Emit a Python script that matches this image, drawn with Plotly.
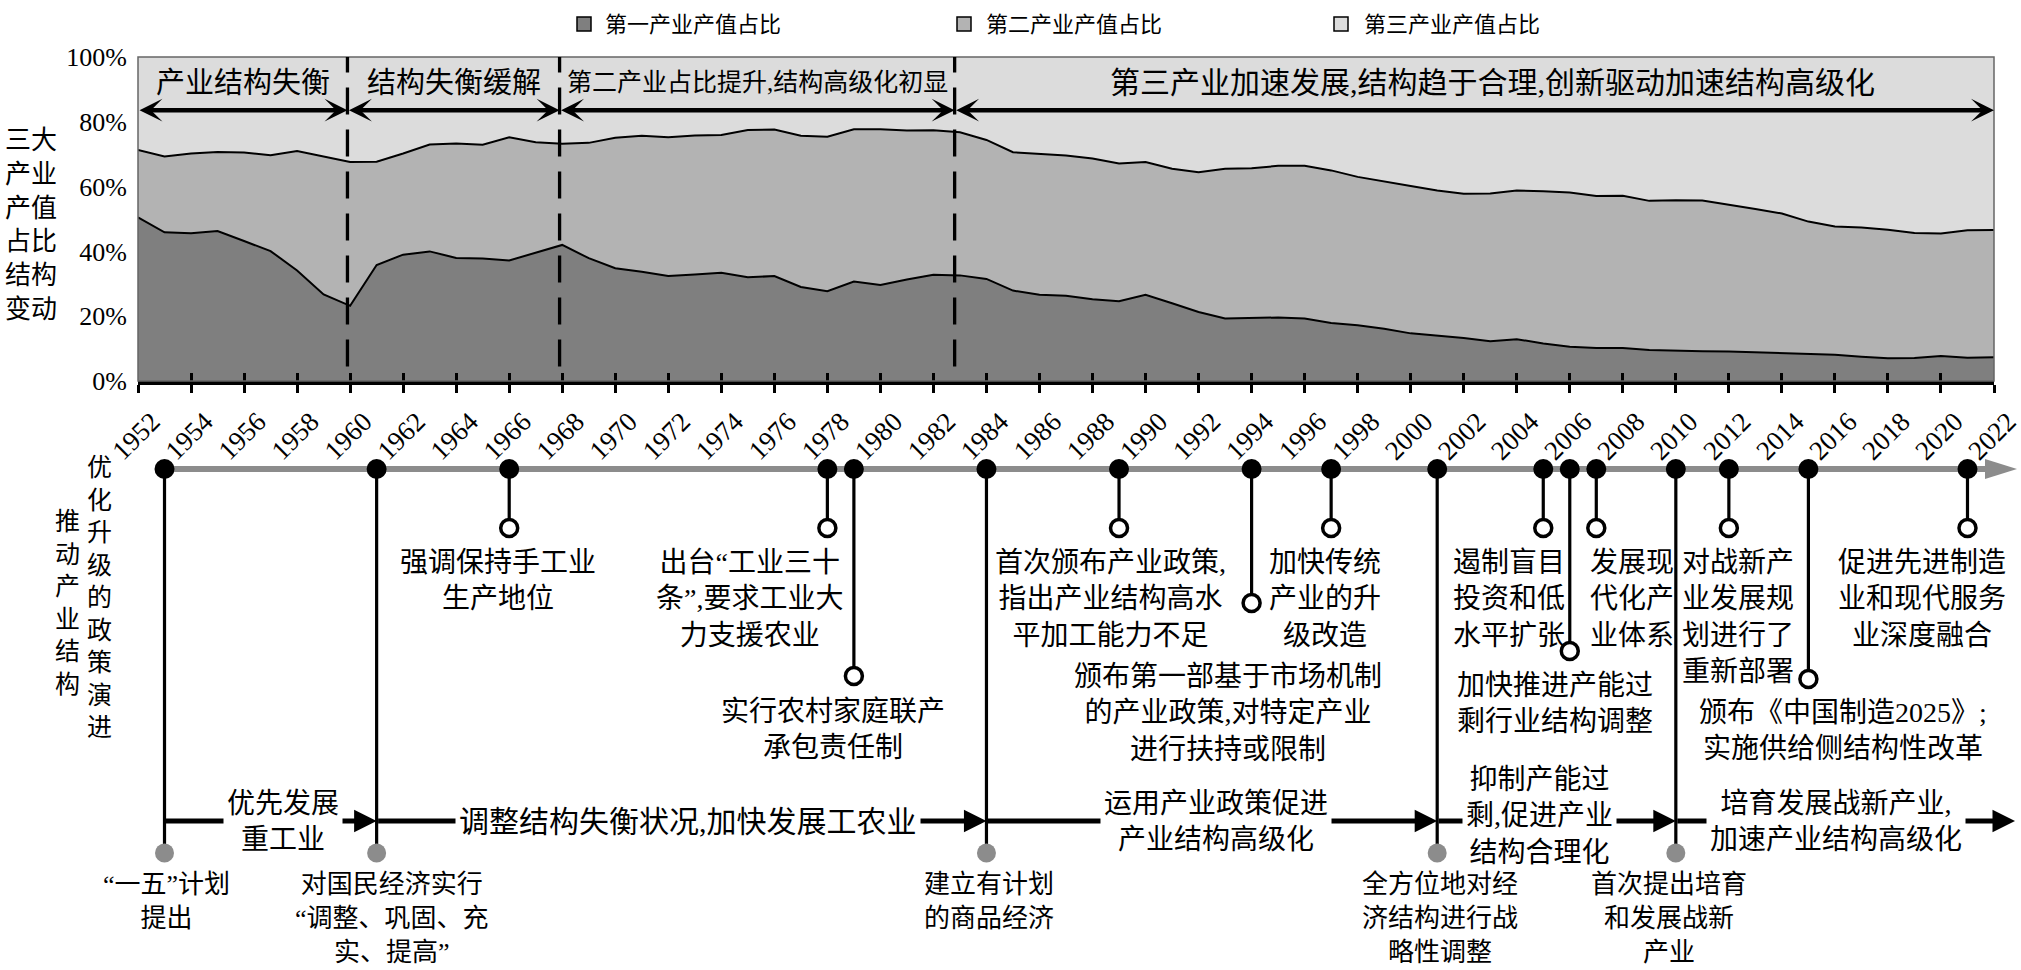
import plotly.graph_objects as go

W, H = 2021, 970

# ---------------- data ----------------
years = list(range(1952, 2023))
primary = [50.5, 45.9, 45.6, 46.3, 43.2, 40.1, 34.1, 26.7, 23.2, 35.8,
           39.0, 40.0, 38.0, 37.8, 37.2, 39.7, 42.0, 37.9, 34.8, 33.7,
           32.4, 32.9, 33.4, 32.0, 32.4, 29.0, 27.7, 30.7, 29.6, 31.3,
           32.8, 32.6, 31.5, 27.9, 26.6, 26.3, 25.2, 24.6, 26.6, 24.0,
           21.3, 19.3, 19.5, 19.6, 19.3, 17.9, 17.2, 16.1, 14.7, 14.0,
           13.3, 12.3, 12.9, 11.6, 10.6, 10.2, 10.2, 9.6, 9.3, 9.2,
           9.1, 8.9, 8.6, 8.4, 8.1, 7.5, 7.0, 7.1, 7.7, 7.2, 7.3]
secondary = [20.8, 23.4, 24.6, 24.4, 27.3, 29.6, 36.9, 42.6, 44.4, 31.9,
             31.2, 33.0, 35.3, 35.1, 38.0, 34.0, 31.2, 35.6, 40.3, 42.0,
             42.8, 42.9, 42.5, 45.5, 45.2, 46.7, 47.7, 47.0, 48.1, 46.0,
             44.6, 44.2, 42.9, 42.7, 43.5, 43.3, 43.5, 42.5, 41.0, 41.5,
             43.1, 46.2, 46.2, 46.8, 47.1, 47.1, 45.8, 45.4, 45.5, 44.8,
             44.5, 45.6, 45.9, 47.0, 47.6, 46.9, 47.0, 46.0, 46.5, 46.5,
             45.4, 44.2, 43.1, 40.8, 39.6, 39.9, 39.7, 38.6, 37.8, 39.3, 39.3]
tertiary = [28.7, 30.7, 29.8, 29.3, 29.5, 30.3, 29.0, 30.7, 32.4, 32.3,
            29.8, 27.0, 26.7, 27.1, 24.8, 26.3, 26.8, 26.5, 24.9, 24.3,
            24.8, 24.2, 24.1, 22.5, 22.4, 24.3, 24.6, 22.3, 22.3, 22.7,
            22.6, 23.2, 25.6, 29.4, 29.9, 30.4, 31.3, 32.9, 32.4, 34.5,
            35.6, 34.5, 34.3, 33.6, 33.6, 35.0, 37.0, 38.5, 39.8, 41.2,
            42.2, 42.1, 41.2, 41.4, 41.8, 42.9, 42.8, 44.4, 44.2, 44.3,
            45.5, 46.9, 48.3, 50.8, 52.3, 52.6, 53.3, 54.3, 54.5, 53.5, 53.4]
series_names = ["第一产业产值占比", "第二产业产值占比", "第三产业产值占比"]

tick_years = list(range(1952, 2023, 2))
tick_labels = [str(y) for y in tick_years]
y_ticks = [0, 20, 40, 60, 80, 100]
y_tick_labels = ["0%", "20%", "40%", "60%", "80%", "100%"]

period_bounds = [1952, 1959.9, 1967.9, 1982.8, 2022]
period_names = ["产业结构失衡", "结构失衡缓解", "第二产业占比提升,结构高级化初显",
                "第三产业加速发展,结构趋于合理,创新驱动加速结构高级化"]

major_years = [1953, 1961, 1984, 2001, 2010]
major_texts = ["“一五”计划<br>提出",
               "对国民经济实行<br>“调整、巩固、充<br>实、提高”",
               "建立有计划<br>的商品经济",
               "全方位地对经<br>济结构进行战<br>略性调整",
               "首次提出培育<br>和发展战新<br>产业"]
stage_texts = ["优先发展<br>重工业",
               "调整结构失衡状况,加快发展工农业",
               "运用产业政策促进<br>产业结构高级化",
               "抑制产能过<br>剩,促进产业<br>结构合理化",
               "培育发展战新产业,<br>加速产业结构高级化"]
event_years = [1966, 1978, 1979, 1989, 1994, 1997, 2005, 2006, 2007, 2012, 2015, 2021]
event_texts = ["强调保持手工业<br>生产地位",
               "出台“工业三十<br>条”,要求工业大<br>力支援农业",
               "实行农村家庭联产<br>承包责任制",
               "首次颁布产业政策,<br>指出产业结构高水<br>平加工能力不足",
               "颁布第一部基于市场机制<br>的产业政策,对特定产业<br>进行扶持或限制",
               "加快传统<br>产业的升<br>级改造",
               "遏制盲目<br>投资和低<br>水平扩张",
               "加快推进产能过<br>剩行业结构调整",
               "发展现<br>代化产<br>业体系",
               "对战新产<br>业发展规<br>划进行了<br>重新部署",
               "颁布《中国制造2025》;<br>实施供给侧结构性改革",
               "促进先进制造<br>业和现代服务<br>业深度融合"]

# ---------------- styles / geometry ----------------
C1, C2, C3 = "#7f7f7f", "#b3b3b3", "#dcdcdc"
GRAY = "#8c8c8c"
FONT = "Liberation Serif, Noto Sans CJK SC"
FS = 28

PLOT_L, PLOT_R, PLOT_T, PLOT_B = 138, 1994, 57, 381
PPY = (PLOT_R - PLOT_L) / (years[-1] - years[0])


def px2yr(px):
    return years[0] + (px - PLOT_L) / PPY


TL_TOP = 430
MAIN_Y, BOTTOM_Y, GRAY_Y, LOWER_TEXT_TOP = 469, 821, 853, 868
TL_TIP = px2yr(2017)
BOTTOM_TIP = px2yr(2015)
PERIOD_TEXT_Y, PERIOD_ARROW_Y = 92, 83.6

event_stem_end = [528, 528, 676, 528, 603, 528, 528, 651, 528, 528, 679, 528]
event_text_top = [545, 545, 694, 545, 659, 545, 545, 668, 545, 545, 695, 545]
event_dx = [-11, -78, -21, -9, -24, -6, -34, -15, 36, 9, 35, -45]
major_dx = [2, 15, 3, 3, -7]
stage_dx = [12, 6, 4, -17, -9]
stage_dy = [0, 0, 0, 5, 0]
stage_font = [28, 30, 28, 28, 28]
period_font = [29, 29, 25, 30]
period_dx = [0, 0, 0, 18]

fig = go.Figure()

# stacked areas
for vals, name, col, lw in zip([primary, secondary, tertiary], series_names,
                               [C1, C2, C3], [2, 2, 0]):
    fig.add_trace(go.Scatter(x=years, y=vals, name=name, stackgroup="one",
                             mode="lines", line=dict(color="black", width=lw),
                             fillcolor=col, hoverinfo="skip"))

# helper trace so the inside-tick overlay axis is drawn
fig.add_trace(go.Scatter(x=[years[0]], y=[0], xaxis="x3", yaxis="y", mode="markers",
                         marker=dict(opacity=0), hoverinfo="skip", showlegend=False))

# ---------------- timeline ----------------
tl = dict(xaxis="x2", yaxis="y2", hoverinfo="skip", showlegend=False, cliponaxis=False)
fig.add_trace(go.Scatter(x=[major_years[0], TL_TIP - 30 / PPY], y=[MAIN_Y, MAIN_Y],
                         mode="lines", line=dict(color=GRAY, width=6), **tl))
xs, ys = [], []
for yr, end in zip(event_years, event_stem_end):
    xs += [yr, yr, None]
    ys += [MAIN_Y, end, None]
for yr in major_years:
    xs += [yr, yr, None]
    ys += [MAIN_Y, GRAY_Y, None]
fig.add_trace(go.Scatter(x=xs, y=ys, mode="lines", line=dict(color="black", width=3.2), **tl))
all_nodes = major_years + event_years
fig.add_trace(go.Scatter(x=all_nodes, y=[MAIN_Y] * len(all_nodes), mode="markers",
                         marker=dict(size=20, color="black"), **tl))
fig.add_trace(go.Scatter(x=event_years, y=event_stem_end, mode="markers",
                         marker=dict(size=17, color="white", line=dict(color="black", width=3.5)), **tl))
fig.add_trace(go.Scatter(x=major_years, y=[GRAY_Y] * len(major_years), mode="markers",
                         marker=dict(size=19, color=GRAY), **tl))

shapes = []
annotations = []

# top plot background + border
shapes.append(dict(type="rect", xref="x domain", yref="y domain", x0=0, x1=1, y0=0, y1=1,
                   fillcolor=C3, line=dict(width=0), layer="below"))
shapes.append(dict(type="rect", xref="x domain", yref="y domain", x0=0, x1=1, y0=0, y1=1,
                   fillcolor="rgba(0,0,0,0)", line=dict(color="#666666", width=1.5), layer="above"))

# period dashed separators, arrows and names
for b in period_bounds[1:-1]:
    shapes.append(dict(type="line", xref="x", yref="y", x0=b, x1=b, y0=4.5, y1=100,
                       line=dict(color="black", width=3.3, dash="27px,15px"), layer="above"))
for i, name in enumerate(period_names):
    a, b = period_bounds[i], period_bounds[i + 1]
    annotations.append(dict(x=b, y=PERIOD_ARROW_Y, ax=a, ay=PERIOD_ARROW_Y, xref="x", yref="y",
                            axref="x", ayref="y", text="", showarrow=True, arrowhead=3,
                            startarrowhead=3, arrowside="end+start", arrowwidth=4.5,
                            arrowsize=0.85, startarrowsize=0.85, arrowcolor="black"))
    annotations.append(dict(x=(a + b) / 2, y=PERIOD_TEXT_Y, xref="x", yref="y", text=name,
                            xshift=period_dx[i], showarrow=False,
                            font=dict(family=FONT, size=period_font[i], color="black"),
                            xanchor="center", yanchor="middle"))

# timeline main arrow head
x_base = TL_TIP - 32 / PPY
shapes.append(dict(type="path", xref="x2", yref="y2",
                   path=f"M {x_base},{MAIN_Y - 10} L {TL_TIP},{MAIN_Y} L {x_base},{MAIN_Y + 10} Z",
                   fillcolor=GRAY, line=dict(width=0), layer="above"))

# bottom stage arrows
ends = major_years[1:] + [BOTTOM_TIP]
for i, (a, b) in enumerate(zip(major_years, ends)):
    annotations.append(dict(x=b, y=BOTTOM_Y, ax=a, ay=BOTTOM_Y, xref="x2", yref="y2",
                            axref="x2", ayref="y2", text="", showarrow=True, arrowhead=2,
                            arrowwidth=5, arrowsize=0.9, arrowcolor="black"))
for i, (a, b) in enumerate(zip(major_years, ends)):
    annotations.append(dict(x=(a + b) / 2, y=BOTTOM_Y, xref="x2", yref="y2", xshift=stage_dx[i],
                            yshift=stage_dy[i], text=stage_texts[i], showarrow=False,
                            bgcolor="white", borderpad=3,
                            font=dict(family=FONT, size=stage_font[i], color="black"),
                            xanchor="center", yanchor="middle", align="center"))

# event texts
for yr, txt, top, dx in zip(event_years, event_texts, event_text_top, event_dx):
    annotations.append(dict(x=yr, y=top, xref="x2", yref="y2", xshift=dx, text=txt,
                            showarrow=False, font=dict(family=FONT, size=FS, color="black"),
                            xanchor="center", yanchor="top", align="center"))
for yr, txt, dx in zip(major_years, major_texts, major_dx):
    annotations.append(dict(x=yr, y=LOWER_TEXT_TOP, xref="x2", yref="y2", xshift=dx, text=txt,
                            showarrow=False, font=dict(family=FONT, size=26, color="black"),
                            xanchor="center", yanchor="top", align="center"))

# left side titles
annotations.append(dict(x=31 / W, y=1 - 225 / H, xref="paper", yref="paper",
                        text="三大<br>产业<br>产值<br>占比<br>结构<br>变动", showarrow=False,
                        font=dict(family=FONT, size=26, color="black"),
                        xanchor="center", yanchor="middle", align="center"))
annotations.append(dict(x=99 / W, y=1 - 597 / H, xref="paper", yref="paper",
                        text="<br>".join("优化升级的政策演进"), showarrow=False,
                        font=dict(family=FONT, size=25, color="black"),
                        xanchor="center", yanchor="middle", align="center"))
annotations.append(dict(x=67 / W, y=1 - 603 / H, xref="paper", yref="paper",
                        text="<br>".join("推动产业结构"), showarrow=False,
                        font=dict(family=FONT, size=25, color="black"),
                        xanchor="center", yanchor="middle", align="center"))

# legend (manual)
leg_sq_x = [584, 964, 1341]
leg_txt_x = [603, 984, 1362]
LEG_Y, SQ = 24, 14
for name, col, sx, tx in zip(series_names, [C1, C2, C3], leg_sq_x, leg_txt_x):
    shapes.append(dict(type="rect", xref="paper", yref="paper",
                       x0=(sx - SQ / 2) / W, x1=(sx + SQ / 2) / W,
                       y0=1 - (LEG_Y + SQ / 2) / H, y1=1 - (LEG_Y - SQ / 2) / H,
                       fillcolor=col, line=dict(color="black", width=1.5)))
    annotations.append(dict(x=tx / W, y=1 - LEG_Y / H, xref="paper", yref="paper", text=name,
                            showarrow=False, font=dict(family=FONT, size=22, color="black"),
                            xanchor="left", yanchor="middle"))

x_dom = [PLOT_L / W, PLOT_R / W]
fig.update_layout(
    width=W, height=H, autosize=False,
    margin=dict(l=0, r=0, t=0, b=0, autoexpand=False),
    paper_bgcolor="white", plot_bgcolor="white",
    showlegend=False, hovermode=False,
    xaxis=dict(domain=x_dom, range=[years[0], years[-1]], tickvals=tick_years, ticktext=tick_labels,
               tickangle=-45, tickfont=dict(family="Liberation Serif", size=27, color="black"),
               ticks="outside", ticklen=8, tickwidth=2.5, tickcolor="black",
               ticklabelshift=14, ticklabelstandoff=2, ticklabeloverflow="allow",
               showline=True, linecolor="black", linewidth=4, showgrid=False, zeroline=False,
               anchor="y", automargin=False),
    xaxis3=dict(domain=x_dom, range=[years[0], years[-1]], overlaying="x", anchor="y", side="bottom",
                tickvals=tick_years, ticks="inside", ticklen=8, tickwidth=2.5, tickcolor="black",
                showticklabels=False, showgrid=False, showline=False, zeroline=False, automargin=False),
    yaxis=dict(domain=[1 - PLOT_B / H, 1 - PLOT_T / H], range=[0, 100], tickvals=y_ticks,
               ticktext=y_tick_labels, tickfont=dict(family="Liberation Serif", size=26, color="black"),
               ticks="", showgrid=False, showline=False, zeroline=False, ticklabelstandoff=10,
               anchor="x", automargin=False),
    xaxis2=dict(domain=[PLOT_L / W, 1], range=[years[0], px2yr(W)], visible=False, anchor="y2",
                automargin=False),
    yaxis2=dict(domain=[0, 1 - TL_TOP / H], range=[H, TL_TOP], visible=False, anchor="x2",
                automargin=False),
    shapes=shapes, annotations=annotations,
)

fig.write_html("out.html", config={"displayModeBar": False},
               post_script="document.body.style.margin='0px';document.body.style.overflow='hidden';")
